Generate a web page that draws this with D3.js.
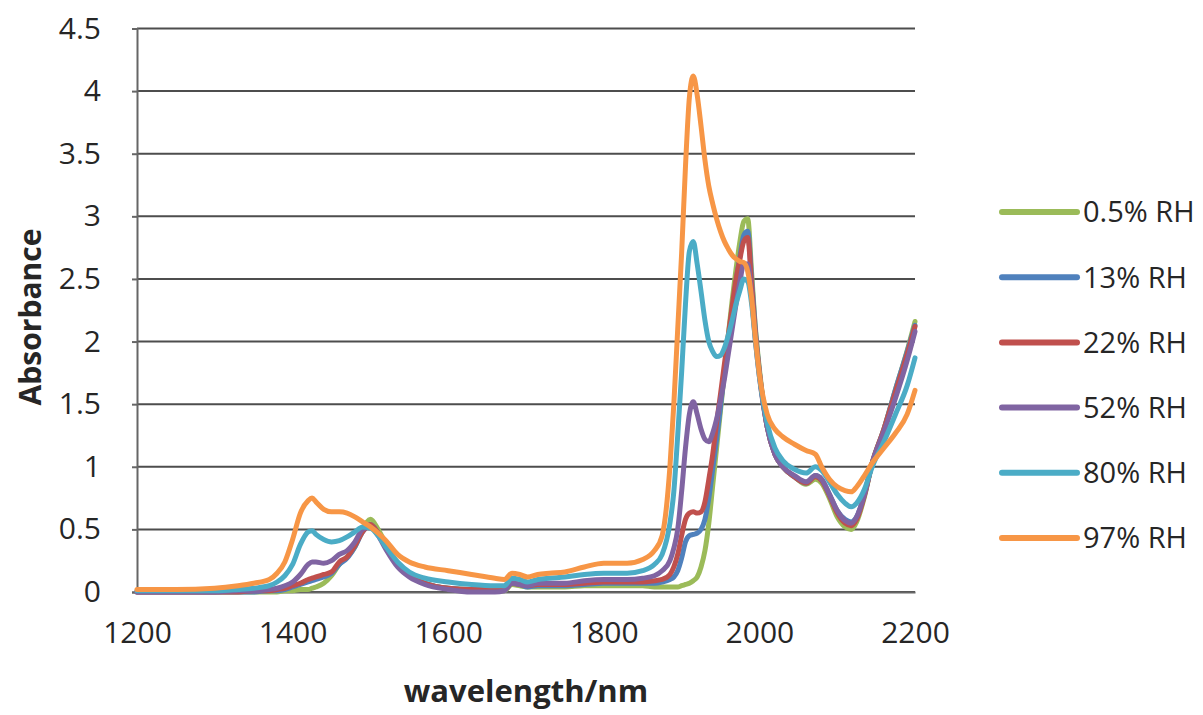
<!DOCTYPE html>
<html>
<head>
<meta charset="utf-8">
<script src="https://cdnjs.cloudflare.com/ajax/libs/d3/7.8.5/d3.min.js"></script>
<style>
    body { margin: 0; background: #fff; }
    text { font-family: "Open Sans", "Noto Sans", sans-serif; fill: #262626; }
</style>
</head>
<body>
<div id="chart-area"></div>
<script>
// Wavelength grid (nm) shared by all series
var wavelength = [1200, 1250, 1300, 1330, 1350, 1370, 1380, 1390, 1400, 1410,
    1420, 1425, 1430, 1440, 1450, 1460, 1470, 1480, 1490, 1500,
    1510, 1520, 1535, 1550, 1570, 1600, 1630, 1660, 1672, 1682,
    1692, 1702, 1715, 1730, 1750, 1775, 1800, 1830, 1850, 1865,
    1875, 1885, 1890, 1895, 1900, 1905, 1910, 1915, 1920, 1925,
    1930, 1935, 1940, 1945, 1950, 1955, 1960, 1965, 1970, 1975,
    1980, 1985, 1990, 1995, 2000, 2010, 2020, 2030, 2045, 2060,
    2072, 2080, 2090, 2100, 2110, 2118, 2125, 2135, 2145, 2160,
    2175, 2190, 2200];

var rh05 = [0, 0, 0, 0, 0, 0, 0, 0.01, 0.01, 0.02,
    0.02, 0.03, 0.04, 0.07, 0.13, 0.22, 0.28, 0.36, 0.5, 0.58,
    0.5, 0.38, 0.23, 0.13, 0.07, 0.03, 0.02, 0.01, 0.01, 0.06,
    0.05, 0.04, 0.04, 0.04, 0.04, 0.05, 0.05, 0.05, 0.05, 0.04,
    0.04, 0.04, 0.04, 0.04, 0.05, 0.06, 0.07, 0.09, 0.12, 0.2,
    0.33, 0.55, 0.85, 1.15, 1.45, 1.75, 2.05, 2.33, 2.58, 2.8,
    2.96, 2.98, 2.55, 2.1, 1.78, 1.32, 1.1, 1.0, 0.92, 0.86,
    0.9, 0.87, 0.75, 0.6, 0.52, 0.5, 0.56, 0.76, 1.03, 1.3,
    1.62, 1.93, 2.16];

var rh13 = [0, 0, 0, 0, 0, 0.01, 0.01, 0.02, 0.04, 0.06,
    0.08, 0.09, 0.1, 0.12, 0.15, 0.22, 0.27, 0.36, 0.48, 0.54,
    0.47, 0.36, 0.22, 0.13, 0.07, 0.03, 0.02, 0.02, 0.02, 0.07,
    0.06, 0.04, 0.05, 0.05, 0.05, 0.06, 0.07, 0.07, 0.07, 0.07,
    0.08, 0.1, 0.12, 0.17, 0.27, 0.4, 0.45, 0.46, 0.47, 0.5,
    0.58, 0.75, 0.98, 1.22, 1.48, 1.75, 2.0, 2.25, 2.48, 2.68,
    2.85, 2.88, 2.5, 2.08, 1.76, 1.32, 1.1, 1.0, 0.92, 0.87,
    0.93, 0.9, 0.78, 0.65, 0.58, 0.56, 0.6, 0.78, 1.03, 1.3,
    1.62, 1.92, 2.13];

var rh22 = [0, 0, 0, 0, 0.01, 0.01, 0.02, 0.03, 0.05, 0.07,
    0.1, 0.11, 0.12, 0.14, 0.16, 0.24, 0.28, 0.37, 0.48, 0.54,
    0.47, 0.36, 0.22, 0.13, 0.07, 0.03, 0.02, 0.02, 0.02, 0.07,
    0.06, 0.05, 0.06, 0.06, 0.06, 0.07, 0.08, 0.08, 0.08, 0.09,
    0.1, 0.14, 0.2, 0.3, 0.45, 0.58, 0.63, 0.64, 0.63, 0.64,
    0.72, 0.9, 1.1, 1.35, 1.58, 1.82, 2.05, 2.28, 2.5, 2.66,
    2.8, 2.83, 2.45, 2.05, 1.75, 1.32, 1.1, 1.0, 0.92, 0.87,
    0.92, 0.89, 0.77, 0.63, 0.55, 0.53, 0.58, 0.77, 1.03, 1.3,
    1.6, 1.9, 2.12];

var rh52 = [0, 0, 0, 0.01, 0.01, 0.02, 0.03, 0.05, 0.08, 0.14,
    0.22, 0.24, 0.24, 0.23, 0.25, 0.3, 0.33, 0.4, 0.5, 0.52,
    0.45, 0.34, 0.2, 0.12, 0.06, 0.02, 0, 0, 0.01, 0.07,
    0.06, 0.05, 0.07, 0.07, 0.07, 0.09, 0.1, 0.1, 0.11, 0.13,
    0.17, 0.25, 0.35, 0.5, 0.8, 1.15, 1.42, 1.52, 1.42, 1.3,
    1.22, 1.2, 1.27, 1.38, 1.53, 1.7, 1.9, 2.1, 2.3, 2.48,
    2.62, 2.62, 2.35, 2.0, 1.72, 1.32, 1.1, 1.0, 0.93, 0.88,
    0.93, 0.9, 0.78, 0.65, 0.57, 0.55, 0.6, 0.78, 1.03, 1.28,
    1.55, 1.85, 2.08];

var rh80 = [0.01, 0.01, 0.01, 0.02, 0.03, 0.05, 0.08, 0.13, 0.22, 0.38,
    0.48, 0.49, 0.46, 0.42, 0.4, 0.41, 0.44, 0.48, 0.52, 0.51,
    0.45, 0.36, 0.24, 0.16, 0.11, 0.08, 0.06, 0.05, 0.05, 0.11,
    0.1, 0.08, 0.1, 0.11, 0.12, 0.14, 0.15, 0.15, 0.17, 0.22,
    0.3, 0.55, 0.8, 1.25, 1.75, 2.3, 2.72, 2.8, 2.62, 2.4,
    2.17, 2.0, 1.92, 1.88, 1.89, 1.95, 2.05, 2.17, 2.3, 2.41,
    2.5, 2.48, 2.3, 2.0, 1.72, 1.35, 1.15, 1.05, 0.98, 0.95,
    1.0, 0.97, 0.88, 0.78, 0.71, 0.68, 0.71, 0.82, 1.0, 1.2,
    1.42, 1.65, 1.87];

var rh97 = [0.02, 0.02, 0.03, 0.05, 0.07, 0.1, 0.15, 0.24, 0.42, 0.63,
    0.73, 0.75, 0.72, 0.66, 0.64, 0.64, 0.63, 0.6, 0.56, 0.52,
    0.47, 0.41, 0.3, 0.24, 0.2, 0.17, 0.14, 0.11, 0.1, 0.15,
    0.14, 0.12, 0.14, 0.15, 0.16, 0.2, 0.23, 0.23, 0.26, 0.33,
    0.45, 1.0, 1.5, 2.1, 2.7, 3.4, 3.95, 4.12, 3.97, 3.72,
    3.45, 3.24, 3.1, 2.98, 2.88, 2.8, 2.74, 2.69, 2.66, 2.64,
    2.63, 2.56, 2.35, 2.02, 1.74, 1.42, 1.3, 1.24, 1.18, 1.13,
    1.1, 1.0, 0.9, 0.84, 0.81, 0.8, 0.84, 0.93, 1.03, 1.15,
    1.27, 1.42, 1.61];

var seriesNames = ["0.5% RH", "13% RH", "22% RH", "52% RH", "80% RH", "97% RH"];
var seriesValues = [rh05, rh13, rh22, rh52, rh80, rh97];
var seriesColors = ["#9BBB59", "#4F81BD", "#C0504D", "#8064A2", "#4BACC6", "#F79646"];

var xTicks = [1200, 1400, 1600, 1800, 2000, 2200];
var yTicks = [0, 0.5, 1, 1.5, 2, 2.5, 3, 3.5, 4, 4.5];

var margin = { left: 137, right: 288, top: 28.5, bottom: 123 },
    width = 1203 - margin.left - margin.right,
    height = 715 - margin.top - margin.bottom;

var svg = d3.select("#chart-area").append("svg")
    .attr("width", 1203)
    .attr("height", 715);

var g = svg.append("g")
    .attr("transform", "translate(" + margin.left + "," + margin.top + ")");

// Scales
var x = d3.scaleLinear().domain([1200, 2200]).range([0, width]);
var y = d3.scaleLinear().domain([0, 4.5]).range([height, 0]);

// Gridlines
g.append("g")
    .selectAll("line")
    .data(yTicks)
    .enter().append("line")
    .attr("x1", 0)
    .attr("x2", width)
    .attr("y1", d => y(d))
    .attr("y2", d => y(d))
    .attr("stroke", "#4d4d4d")
    .attr("stroke-width", 2);

// Axes
var yAxis = g.append("g")
    .call(d3.axisLeft(y).tickValues(yTicks).tickSize(5).tickPadding(31)
        .tickFormat(d3.format("")));
yAxis.select(".domain").attr("stroke", "#666").attr("stroke-width", 2);
yAxis.selectAll(".tick line").attr("stroke", "#666").attr("stroke-width", 2);
yAxis.selectAll(".tick text")
    .attr("font-size", 30)
    .attr("font-family", "Open Sans")
    .attr("fill", "#262626");

var xAxis = g.append("g")
    .attr("transform", "translate(0," + height + ")")
    .call(d3.axisBottom(x).tickValues(xTicks).tickSize(0).tickPadding(30)
        .tickFormat(d3.format("")));
xAxis.select(".domain").attr("stroke", "#666").attr("stroke-width", 2);
xAxis.selectAll(".tick text")
    .attr("font-size", 30)
    .attr("font-family", "Open Sans")
    .attr("fill", "#262626");

// Axis titles
svg.append("text")
    .attr("transform", "translate(41,317) rotate(-90)")
    .attr("text-anchor", "middle")
    .attr("font-size", 30)
    .attr("font-weight", "bold")
    .text("Absorbance");

svg.append("text")
    .attr("x", 526)
    .attr("y", 702)
    .attr("text-anchor", "middle")
    .attr("font-size", 31)
    .attr("font-weight", "bold")
    .text("wavelength/nm");

// Line path generator
var line = d3.line()
    .x(d => x(d[0]))
    .y(d => y(d[1]))
    .curve(d3.curveMonotoneX);

seriesValues.forEach(function(vals, i) {
    g.append("path")
        .datum(wavelength.map((w, k) => [w, vals[k]]))
        .attr("fill", "none")
        .attr("stroke", seriesColors[i])
        .attr("stroke-width", 5)
        .attr("stroke-linejoin", "round")
        .attr("stroke-linecap", "round")
        .attr("d", line);
});

// Legend
var legend = svg.append("g")
    .attr("transform", "translate(1002,212)");

var item = legend.selectAll("g")
    .data(seriesNames)
    .enter().append("g")
    .attr("transform", (d, i) => "translate(0," + (i * 65.2) + ")");

item.append("line")
    .attr("x1", 0)
    .attr("x2", 75)
    .attr("stroke", (d, i) => seriesColors[i])
    .attr("stroke-width", 6)
    .attr("stroke-linecap", "round");

item.append("text")
    .attr("x", 81)
    .attr("dy", "0.36em")
    .attr("font-size", 29)
    .text(d => d);
</script>
</body>
</html>
